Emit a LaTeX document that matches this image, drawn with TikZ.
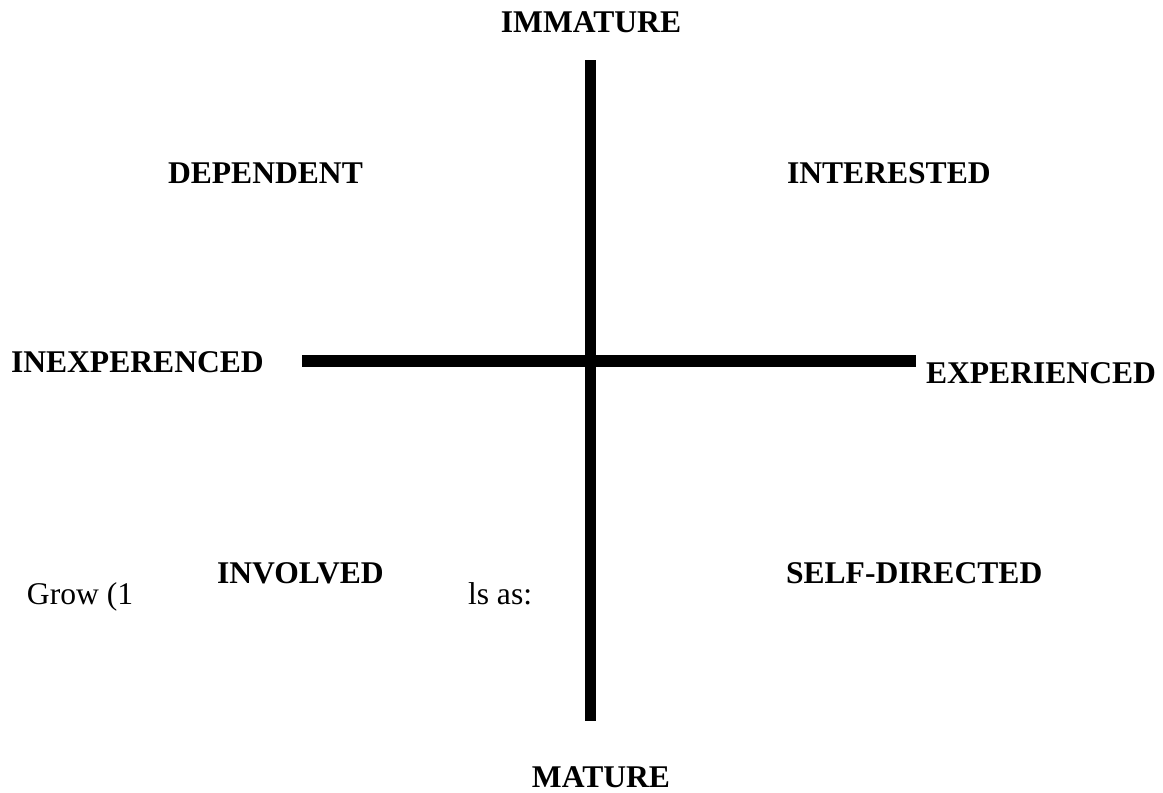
\documentclass[tikz,border=0pt]{standalone}
\usepackage{fontspec}
\setmainfont{Liberation Serif}
\begin{document}
\begin{tikzpicture}[x=1pt,y=-1pt,
  lbl/.style={inner sep=0pt,outer sep=0pt,font=\fontsize{31.6}{32}\selectfont\bfseries},
  txt/.style={inner sep=0pt,outer sep=0pt,font=\fontsize{31.6}{32}\selectfont},
  axis/.style={line width=11.5pt,line cap=butt,black}]
\useasboundingbox (0,0) rectangle (1163,793);
\coordinate (vtop) at (590.5,60);
\coordinate (vbot) at (590.5,721);
\coordinate (hleft) at (302,361);
\coordinate (hright) at (916,361);
\draw[axis] (vtop) -- (vbot);
\draw[axis] (hleft) -- (hright);
\node[lbl,anchor=base] (immature) at (591,32) {IMMATURE};
\node[lbl,anchor=base] (mature) at (601,787) {MATURE};
\node[lbl,anchor=base west] (dependent) at (168,183) {DEPENDENT};
\node[lbl,anchor=base west] (interested) at (787,183) {INTERESTED};
\node[lbl,anchor=base west] (inexp) at (11,372) {INEXPERENCED};
\node[lbl,anchor=base west] (exp) at (926,383) {EXPERIENCED};
\node[lbl,anchor=base west] (involved) at (217,583) {INVOLVED};
\node[lbl,anchor=base west] (selfdir) at (786,583) {SELF-DIRECTED};
\node[txt,anchor=base west] (grow) at (27,604) {Grow (1};
\node[txt,anchor=base west] (lsas) at (468,604) {ls as:};
\end{tikzpicture}
\end{document}
